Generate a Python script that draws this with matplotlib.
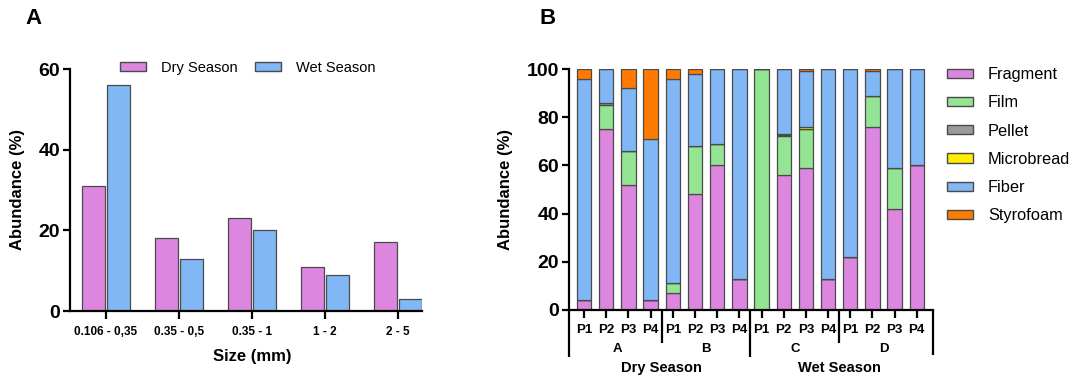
import matplotlib
matplotlib.use("Agg")
import matplotlib.pyplot as plt
import numpy as np
from matplotlib.patches import Patch
from matplotlib.transforms import blended_transform_factory

plt.rcParams['font.family'] = ['Liberation Sans', 'DejaVu Sans']

# ---------------- Data ----------------
size_classes = ["0.106 - 0,35", "0.35 - 0,5", "0.35 - 1", "1 - 2", "2 - 5"]
dry_season = [31, 18, 23, 11, 17]
wet_season = [56, 13, 20, 9, 3]

sites = ["P1", "P2", "P3", "P4"] * 4
groups = ["A", "B", "C", "D"]
seasons = ["Dry Season", "Wet Season"]
fragment = [4, 75, 52, 4, 7, 48, 60, 13, 0, 56, 59, 13, 22, 76, 42, 60]
film = [0, 10, 14, 0, 4, 20, 9, 0, 100, 16, 16, 0, 0, 13, 17, 0]
pellet = [0, 1, 0, 0, 0, 0, 0, 0, 0, 0.5, 0, 0, 0, 0, 0, 0]
microbead = [0, 0, 0, 0, 0, 0, 0, 0, 0, 0.7, 1, 0, 0, 0, 0, 0]
fiber = [92, 14, 26, 67, 85, 30, 31, 87, 0, 26.8, 23, 87, 78, 10, 41, 40]
styrofoam = [4, 0, 8, 29, 4, 2, 0, 0, 0, 0, 1, 0, 0, 1, 0, 0]
type_names = ["Fragment", "Film", "Pellet", "Microbread", "Fiber", "Styrofoam"]

# ---------------- Style ----------------
C_PINK = "#DD86E0"
C_BLUE = "#82B7F5"
C_GREEN = "#93E593"
C_GRAY = "#9A9A9A"
C_YELLOW = "#FFEE00"
C_ORANGE = "#FF7A00"
EDGE = "#4a4a4a"
type_colors = [C_PINK, C_GREEN, C_GRAY, C_YELLOW, C_BLUE, C_ORANGE]

W, H = 1077, 381
fig = plt.figure(figsize=(W / 100, H / 100), dpi=100)


def px_axes(left, top, right, bottom):
    return fig.add_axes([left / W, 1 - bottom / H, (right - left) / W, (bottom - top) / H])


def style_axes(ax):
    for s in ["top", "right"]:
        ax.spines[s].set_visible(False)
    for s in ["left", "bottom"]:
        ax.spines[s].set_linewidth(1.6)
        ax.spines[s].set_color("black")
    ax.tick_params(axis="both", direction="out", width=1.6, length=5, color="black")
    ax.tick_params(axis="y", labelsize=14, pad=2)
    for lab in ax.get_yticklabels():
        lab.set_fontweight("bold")


# ---------------- Panel A ----------------
axA = px_axes(70, 69, 422, 311)
x = np.arange(len(size_classes))
bw = 0.315
axA.bar(x - 0.171, dry_season, bw, color=C_PINK, edgecolor=EDGE, linewidth=0.9, label="Dry Season")
axA.bar(x + 0.171, wet_season, bw, color=C_BLUE, edgecolor=EDGE, linewidth=0.9, label="Wet Season")
axA.set_xlim(-0.49, 0.33 + len(size_classes) - 1)
axA.set_ylim(0, 60)
axA.set_yticks([0, 20, 40, 60])
axA.set_xticks(x)
axA.set_xticklabels(size_classes, fontsize=8.5, fontweight="bold")
style_axes(axA)
axA.tick_params(axis="x", length=6, pad=5)
for lab in axA.get_yticklabels():
    lab.set_fontweight("bold")
axA.set_ylabel("Abundance (%)", fontsize=12, fontweight="bold")
axA.yaxis.set_label_coords(-0.128, 0.5)
fig.text(252 / W, 1 - 356 / H, "Size (mm)", fontsize=12, fontweight="bold", ha="center", va="center")
axA.legend(handles=[Patch(facecolor=C_PINK, edgecolor=EDGE, label="Dry Season"),
                    Patch(facecolor=C_BLUE, edgecolor=EDGE, label="Wet Season")],
           ncol=2, frameon=False, fontsize=10.5, handlelength=1.8, handleheight=0.55,
           handletextpad=1.0, columnspacing=1.2, borderpad=0, borderaxespad=0,
           loc="center left", bbox_to_anchor=(120 / W, 1 - 68 / H), bbox_transform=fig.transFigure)
fig.text(33 / W, 1 - 19 / H, "A", fontsize=16, fontweight="bold", ha="center", va="center")

# ---------------- Panel B ----------------
axB = px_axes(569, 69, 933, 310)
xb = np.arange(len(sites))
layers = [fragment, film, pellet, microbead, fiber, styrofoam]
bottom = np.zeros(len(sites))
for vals, col, name in zip(layers, type_colors, type_names):
    v = np.array(vals, dtype=float)
    axB.bar(xb, v, 0.65, bottom=bottom, color=col, edgecolor=EDGE, linewidth=0.9, label=name)
    bottom += v
axB.set_xlim(-0.68, 15.73)
axB.set_ylim(0, 100)
axB.set_yticks([0, 20, 40, 60, 80, 100])
axB.set_xticks(xb)
axB.set_xticklabels(sites, fontsize=9.5, fontweight="bold")
style_axes(axB)
axB.tick_params(axis="x", length=6, pad=4)
for lab in axB.get_yticklabels():
    lab.set_fontweight("bold")
axB.set_ylabel("Abundance (%)", fontsize=12, fontweight="bold")
axB.yaxis.set_label_coords(-0.154, 0.5)

# nested group axis below
tr = blended_transform_factory(axB.transData, axB.transAxes)
axh = 241.0


def fy(px_below):
    return -px_below / axh


xl, xr = axB.get_xlim()
for xpos, depth in [(xl, 47), (3.5, 33), (7.5, 47), (11.5, 33), (xr, 45)]:
    axB.plot([xpos, xpos], [0, fy(depth)], transform=tr, color="black", lw=1.6,
             clip_on=False, solid_capstyle="butt")
for i, g in enumerate(groups):
    axB.text(4 * i + 1.5, fy(39), g, transform=tr, ha="center", va="center",
             fontsize=9.5, fontweight="bold")
for i, s in enumerate(seasons):
    axB.text(8 * i + 3.5, fy(58), s, transform=tr, ha="center", va="center",
             fontsize=10.5, fontweight="bold")

handles = [Patch(facecolor=c, edgecolor=EDGE, label=n) for c, n in zip(type_colors, type_names)]
fig.legend(handles=handles, frameon=False, fontsize=11.8, handlelength=1.6, handleheight=0.5,
           handletextpad=0.9, labelspacing=0.81, borderpad=0, borderaxespad=0,
           loc="upper left", bbox_to_anchor=(947 / W, 1 - 67 / H))
fig.text(548 / W, 1 - 19 / H, "B", fontsize=16, fontweight="bold", ha="center", va="center")

fig.savefig("out.png", dpi=100, facecolor="white")
